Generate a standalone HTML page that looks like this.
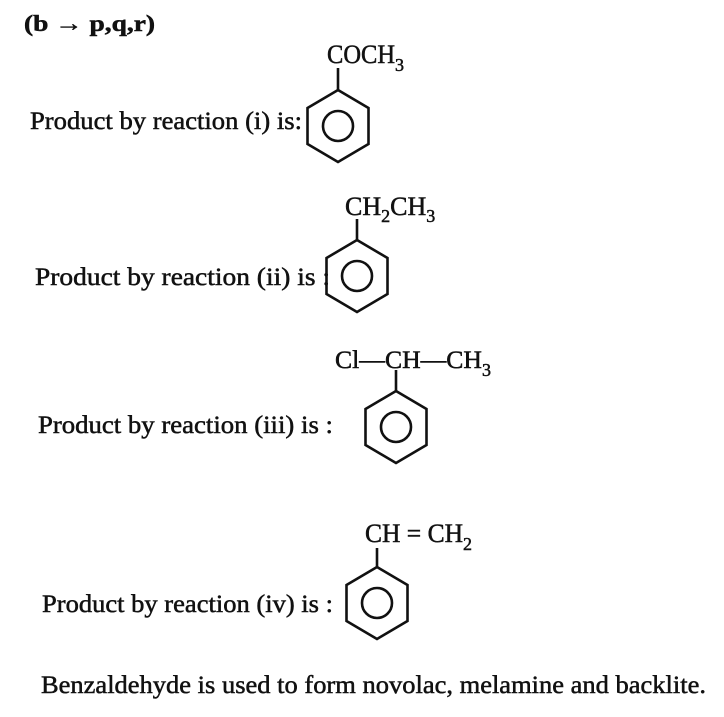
<!DOCTYPE html>
<html><head><meta charset="utf-8"><style>html,body{margin:0;padding:0;background:#fff}svg{display:block}</style></head>
<body>
<svg width="724" height="717" viewBox="0 0 724 717" xmlns="http://www.w3.org/2000/svg" font-family="Liberation Serif, serif" fill="#111">
<defs>
<g id="bz" fill="none" stroke="#111" stroke-width="2.6" stroke-linejoin="miter">
<polygon points="0,-36 30.5,-18 30.5,18 0,36 -30.5,18 -30.5,-18"/>
<circle r="15"/>
</g>
</defs>
<g stroke="#111" stroke-width="0.5">
<text x="24" y="31" font-size="23" font-weight="bold" textLength="131" lengthAdjust="spacingAndGlyphs">(b → p,q,r)</text>

<text x="30" y="129" font-size="25" textLength="272" lengthAdjust="spacingAndGlyphs">Product by reaction (i) is:</text>
<text x="327" y="63" font-size="26" textLength="68" lengthAdjust="spacingAndGlyphs">COCH</text><text x="395" y="71" font-size="18">3</text>

<text x="35" y="285" font-size="25" textLength="295" lengthAdjust="spacingAndGlyphs">Product by reaction (ii) is :</text>
<text x="345" y="215" font-size="26">CH<tspan font-size="18" dy="7">2</tspan><tspan dy="-7">CH</tspan><tspan font-size="18" dy="7">3</tspan></text>

<text x="38" y="433" font-size="25" textLength="295" lengthAdjust="spacingAndGlyphs">Product by reaction (iii) is :</text>
<text x="335" y="368" font-size="25" textLength="147" lengthAdjust="spacingAndGlyphs">Cl—CH—CH</text><text x="482" y="376" font-size="18">3</text>

<text x="42" y="612" font-size="25" textLength="291" lengthAdjust="spacingAndGlyphs">Product by reaction (iv) is :</text>
<text x="365" y="542" font-size="26" textLength="98" lengthAdjust="spacingAndGlyphs">CH = CH</text><text x="463" y="550" font-size="18">2</text>

<text x="41" y="693" font-size="25" textLength="665" lengthAdjust="spacingAndGlyphs">Benzaldehyde is used to form novolac, melamine and backlite.</text>
</g>
<use href="#bz" x="338" y="126"/>
<line x1="338" y1="90" x2="338" y2="68" stroke="#111" stroke-width="2.6"/>
<use href="#bz" x="357" y="276"/>
<line x1="357" y1="240" x2="357" y2="219" stroke="#111" stroke-width="2.6"/>
<use href="#bz" x="396" y="427"/>
<line x1="396" y1="391" x2="396" y2="370" stroke="#111" stroke-width="2.6"/>
<use href="#bz" x="377" y="603"/>
<line x1="377" y1="567" x2="377" y2="548" stroke="#111" stroke-width="2.6"/>
</svg>
</body></html>
